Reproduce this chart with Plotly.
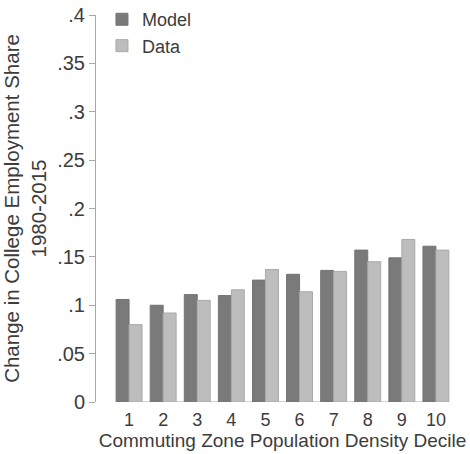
import plotly.graph_objects as go

deciles = [1, 2, 3, 4, 5, 6, 7, 8, 9, 10]
tick_labels = ["1", "2", "3", "4", "5", "6", "7", "8", "9", "10"]
model = [0.106, 0.100, 0.111, 0.110, 0.126, 0.132, 0.136, 0.157, 0.149, 0.161]
data = [0.080, 0.092, 0.105, 0.116, 0.137, 0.114, 0.135, 0.145, 0.168, 0.157]
y_ticks = [0, 0.05, 0.1, 0.15, 0.2, 0.25, 0.3, 0.35, 0.4]
y_tick_labels = ["0", ".05", ".1", ".15", ".2", ".25", ".3", ".35", ".4"]

FONT = "Liberation Sans, Arial, Helvetica, sans-serif"
TXT = "#3c3c3c"
AX = "#a8a8a8"

fig = go.Figure()
fig.add_trace(go.Bar(x=deciles, y=model, name="Model",
                     marker=dict(color="#7a7a7a", line=dict(color="#747474", width=1))))
fig.add_trace(go.Bar(x=deciles, y=data, name="Data",
                     marker=dict(color="#bdbdbd", line=dict(color="#a9a9a9", width=1))))

fig.add_shape(type="line", xref="x", yref="y", x0=deciles[0], x1=deciles[-1], y0=0, y1=0,
              line=dict(color=AX, width=1), layer="below")

fig.update_layout(
    width=470, height=454,
    margin=dict(l=96, r=1, t=8, b=52),
    paper_bgcolor="white", plot_bgcolor="white",
    font=dict(family=FONT, size=18, color=TXT),
    barmode="group", bargap=0.24, bargroupgap=0,
    showlegend=True,
    legend=dict(x=0.016, y=1.036, xanchor="left", yanchor="top",
                bgcolor="rgba(0,0,0,0)", font=dict(size=18, color=TXT),
                tracegroupgap=0),
    xaxis=dict(range=[0.03, 10.97], tickvals=deciles, ticktext=tick_labels,
               showline=False, showgrid=False, zeroline=False, automargin=False,
               ticks="outside", ticklen=1, tickcolor="rgba(0,0,0,0)",
               tickfont=dict(size=18, color=TXT),
               title=dict(text="Commuting Zone Population Density Decile",
                          font=dict(size=19, color=TXT), standoff=2)),
    yaxis=dict(range=[0, 0.4], tickvals=y_ticks, ticktext=y_tick_labels,
               showline=True, linecolor=AX, linewidth=1, automargin=False,
               showgrid=False, zeroline=False,
               ticks="outside", ticklen=6, tickcolor=AX, tickwidth=1,
               tickfont=dict(size=20, color=TXT),
               title=dict(text="Change in College Employment Share<br>1980-2015",
                          font=dict(size=20.5, color=TXT), standoff=7)),
)

fig.write_html("out.html", config={"displayModeBar": False},
               post_script="document.body.style.margin='0';document.body.style.overflow='hidden';")
